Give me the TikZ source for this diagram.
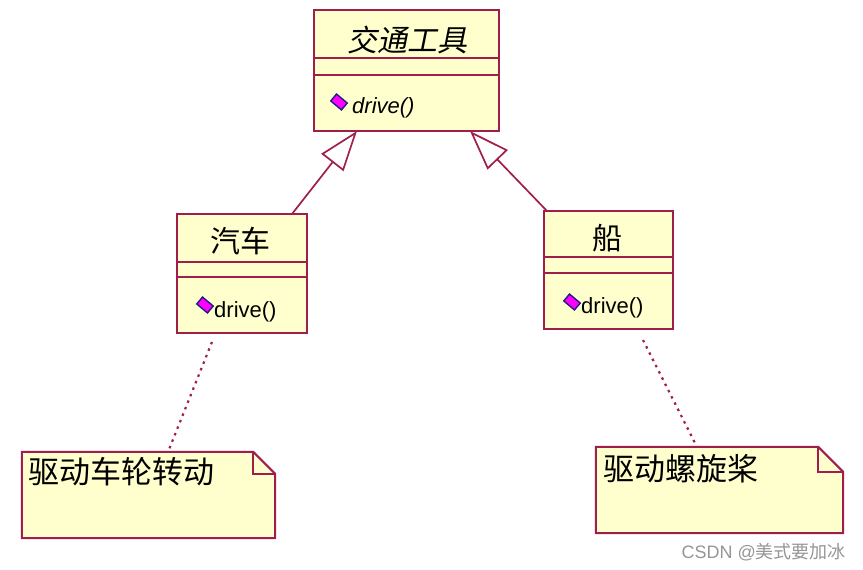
\documentclass[tikz,border=0pt]{standalone}
\usepackage{fontspec}
\setmainfont{Liberation Sans}
\newfontfamily\cjk{Noto Sans CJK SC}
\newfontfamily\cjkit[FakeSlant=0.2]{Noto Sans CJK SC}
\usetikzlibrary{arrows.meta}
\definecolor{umlfill}{RGB}{255,255,206}
\definecolor{umlline}{RGB}{160,30,75}
\definecolor{icfill}{RGB}{255,0,255}
\definecolor{icline}{RGB}{30,30,130}
\definecolor{wmgray}{RGB}{150,150,150}
\begin{document}
\begin{tikzpicture}[x=1pt,y=-1pt,
  clsbox/.style={draw=umlline, fill=umlfill, line width=2pt, inner sep=0pt},
  uline/.style={draw=umlline, line width=2pt},
  ttl/.style={font=\cjk\fontsize{30}{30}\selectfont, inner sep=0pt},
  opname/.style={anchor=west, inner sep=0pt, font=\fontsize{22}{22}\selectfont},
  icon/.style={draw=icline, fill=icfill, line width=1.4pt, minimum width=14pt, minimum height=9pt, inner sep=0pt, rotate=-40},
  gen/.style={draw=umlline, line width=1.7pt, -{Triangle[open, length=40pt, width=28pt]}},
  notebox/.style={draw=umlline, fill=umlfill, line width=2pt},
  notetext/.style={anchor=west, inner sep=0pt, font=\cjk\fontsize{31}{31}\selectfont},
  dotline/.style={draw=umlline, line width=2.2pt, dash pattern=on 2.5pt off 4.5pt}
]
\useasboundingbox (0,0) rectangle (863,570);
\fill[white] (0,0) rectangle (863,570);

% top class
\node[clsbox, minimum width=185pt, minimum height=121pt] (veh) at (406.5,70.5) {};
\draw[uline] (veh.west |- 0,58) -- (veh.east |- 0,58);
\draw[uline] (veh.west |- 0,75) -- (veh.east |- 0,75);
\node[ttl, font=\cjkit\fontsize{30}{30}\selectfont] (vehT) at (407,39.5) {交通工具};
\node[icon] (vehI) at (339,102) {};
\node[opname, font=\itshape\fontsize{22}{22}\selectfont] (vehO) at (352,108) {drive()};

% car class
\node[clsbox, minimum width=130pt, minimum height=119pt] (car) at (242,273.5) {};
\draw[uline] (car.west |- 0,262) -- (car.east |- 0,262);
\draw[uline] (car.west |- 0,277) -- (car.east |- 0,277);
\node[ttl] (carT) at (240,241) {汽车};
\node[icon] (carI) at (205,305) {};
\node[opname] (carO) at (214,312) {drive()};

% boat class
\node[clsbox, minimum width=129pt, minimum height=118pt] (boat) at (608.5,270) {};
\draw[uline] (boat.west |- 0,257) -- (boat.east |- 0,257);
\draw[uline] (boat.west |- 0,273) -- (boat.east |- 0,273);
\node[ttl] (boatT) at (607,238) {船};
\node[icon] (boatI) at (572,302) {};
\node[opname] (boatO) at (581,308) {drive()};

% generalisation arrows
\coordinate (carTop) at (292,214);
\coordinate (vehL) at (357,131);
\coordinate (boatTop) at (547,211);
\coordinate (vehR) at (470,131);
\draw[gen] (carTop) -- (vehL);
\draw[gen] (boatTop) -- (vehR);

% notes
\node[inner sep=0pt, minimum width=253pt, minimum height=86pt] (n1) at (148.5,495) {};
\draw[notebox] (n1.north west) -- ([xshift=-22pt]n1.north east) -- ([yshift=-22pt]n1.north east) -- (n1.south east) -- (n1.south west) -- cycle;
\draw[uline] ([xshift=-22pt]n1.north east) -- ([xshift=-22pt,yshift=-22pt]n1.north east) -- ([yshift=-22pt]n1.north east);
\node[notetext] (n1t) at (28,472) {驱动车轮转动};

\node[inner sep=0pt, minimum width=247pt, minimum height=86pt] (n2) at (719.5,490) {};
\draw[notebox] (n2.north west) -- ([xshift=-25pt]n2.north east) -- ([yshift=-25pt]n2.north east) -- (n2.south east) -- (n2.south west) -- cycle;
\draw[uline] ([xshift=-25pt]n2.north east) -- ([xshift=-25pt,yshift=-25pt]n2.north east) -- ([yshift=-25pt]n2.north east);
\node[notetext] (n2t) at (603,469) {驱动螺旋桨};

% note links
\coordinate (carB) at (212,342);
\coordinate (n1a) at (168,452);
\coordinate (boatB) at (643,340);
\coordinate (n2a) at (697,447);
\draw[dotline] (carB) -- (n1a);
\draw[dotline] (boatB) -- (n2a);

% watermark
\node[anchor=east, inner sep=0pt, text=wmgray, font=\fontsize{18}{18}\selectfont] (wm) at (846,552) {CSDN @{\cjk 美式要加冰}};
\end{tikzpicture}
\end{document}
